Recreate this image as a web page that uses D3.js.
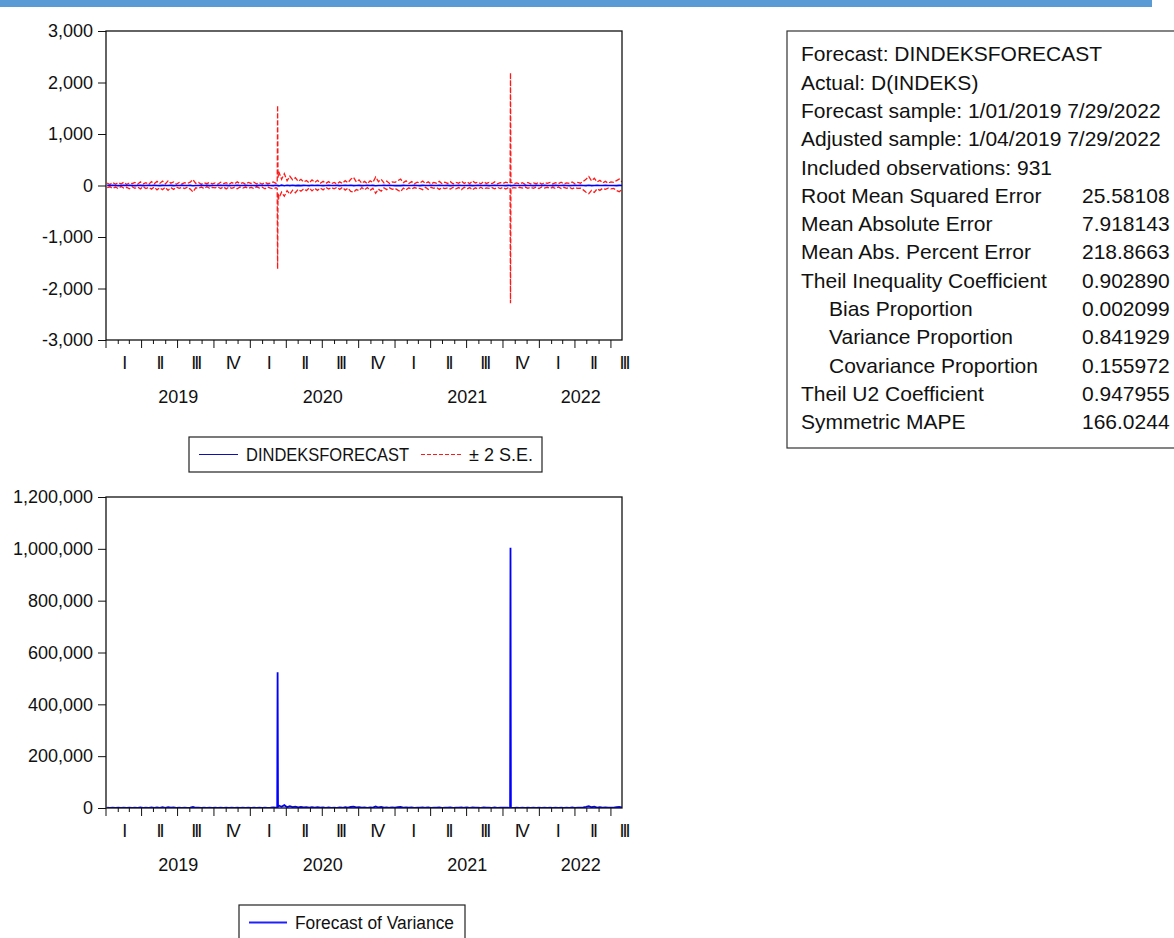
<!DOCTYPE html>
<html>
<head>
<meta charset="utf-8">
<script src="https://cdn.jsdelivr.net/npm/d3@7"></script>
<style>
  body { margin: 0; background: #fff; }
  text { font-family: "Liberation Sans", Arial, sans-serif; fill: #111; }
</style>
</head>
<body>
<svg id="chart" width="1174" height="938"></svg>
<script>
// weekly readings (Fridays, 2019-01-04 .. 2022-07-29)
const upperBand = [
  45, 20, 60, 25, 55, 30, 65, 20, 50, 35,
  60, 25, 70, 30, 55, 20, 75, 35, 80, 40,
  85, 30, 90, 45, 70, 25, 60, 30, 55, 40,
  65, 115, 40, 60, 25, 55, 35, 60, 30, 50,
  25, 65, 35, 55, 20, 60, 30, 70, 35, 55,
  25, 60, 40, 65, 30, 55, 25, 60, 35, 45,
  70, 40, 270, 120, 230, 90, 180, 110, 150, 80,
  120, 70, 95, 50, 110, 60, 100, 45, 80, 40,
  75, 35, 60, 30, 70, 40, 95, 55, 120, 160,
  70, 110, 45, 80, 35, 90, 60, 165, 75, 120,
  50, 85, 40, 70, 60, 95, 125, 55, 90, 40,
  75, 35, 65, 50, 85, 40, 70, 30, 60, 45,
  80, 35, 65, 40, 75, 30, 60, 45, 85, 40,
  70, 35, 90, 50, 65, 30, 75, 40, 60, 35,
  70, 30, 55, 40, 65, 45, 60, 35, 50, 30,
  55, 25, 60, 30, 50, 35, 65, 25, 55, 40,
  60, 30, 55, 35, 65, 30, 50, 40, 70, 35,
  60, 45, 80, 120, 175, 90, 140, 70, 100, 50,
  80, 45, 70, 60, 95, 125, 70
];
const lowerBand = [
  -40, -25, -55, -30, -60, -20, -50, -35, -65, -25,
  -55, -30, -65, -25, -60, -35, -70, -30, -85, -45,
  -80, -35, -95, -40, -75, -30, -55, -35, -60, -30,
  -70, -125, -45, -55, -30, -60, -25, -55, -35, -45,
  -30, -60, -25, -65, -30, -55, -35, -65, -30, -50,
  -30, -55, -35, -60, -25, -50, -35, -65, -30, -50,
  -65, -45, -250, -130, -210, -100, -170, -90, -140, -75,
  -110, -65, -100, -45, -105, -55, -95, -50, -85, -35,
  -70, -40, -65, -35, -75, -35, -90, -50, -115, -130,
  -80, -100, -40, -85, -40, -95, -55, -150, -70, -110,
  -45, -80, -45, -75, -55, -90, -120, -50, -85, -45,
  -70, -40, -60, -55, -80, -35, -75, -35, -55, -40,
  -75, -40, -60, -45, -70, -35, -65, -40, -80, -35,
  -65, -40, -85, -45, -70, -35, -70, -45, -55, -40,
  -65, -35, -60, -35, -70, -40, -55, -40, -55, -35,
  -50, -30, -55, -35, -55, -30, -60, -30, -50, -35,
  -55, -35, -60, -30, -60, -35, -55, -35, -65, -40,
  -55, -50, -85, -130, -160, -95, -135, -65, -95, -55,
  -75, -50, -65, -55, -100, -120, -75
];
const forecast = [
  2, -1, 3, 0, -2, 1, 4, -1, 2, 0,
  -3, 1, 2, -2, 0, 3, -1, 2, 1, -2,
  3, 0, -1, 2, -3, 1, 0, 2, -1, 1,
  2, -4, 1, 0, 3, -1, 2, -2, 1, 0,
  -1, 2, 0, 3, -2, 1, -1, 2, 0, 1,
  2, -1, 1, 0, -2, 3, 1, -1, 2, 0,
  -3, 4, -8, 6, -5, 4, -3, 5, -2, 3,
  -2, 3, 1, -2, 4, -1, 2, 0, -3, 1,
  2, -1, 0, 3, -2, 1, 2, -1, 4, -3,
  1, 2, -2, 0, 3, -1, 2, -4, 1, 0,
  2, -1, 3, 0, -2, 1, -3, 2, 0, 1,
  -1, 2, 0, -2, 3, 1, -1, 2, 0, -1,
  2, 0, -1, 3, -2, 1, 0, 2, -1, 1,
  0, 2, -3, 1, 2, -1, 0, 3, -2, 1,
  2, -1, 1, 0, -2, 3, -4, 2, 0, 1,
  -1, 2, 0, 1, -2, 3, 0, -1, 2, 0,
  1, -2, 3, 0, -1, 2, 1, -2, 0, 3,
  -1, 2, 0, -3, 4, -2, 1, 3, -1, 0,
  2, -1, 1, 0, -2, 3, 1
];
const variance = [
  900, 400, 1600, 500, 1300, 600, 1800, 400, 1200, 700,
  1500, 500, 2000, 600, 1400, 400, 2200, 800, 2500, 900,
  2800, 700, 3200, 1100, 2000, 500, 1500, 600, 1300, 800,
  1800, 4200, 900, 1400, 500, 1300, 700, 1500, 600, 1100,
  500, 1600, 700, 1400, 400, 1500, 600, 1800, 700, 1300,
  500, 1500, 800, 1700, 600, 1300, 500, 1600, 700, 1000,
  1900, 900, 9500, 4500, 11000, 3200, 7000, 3500, 5200, 2500,
  4000, 2000, 3300, 1200, 3600, 1500, 3000, 1100, 2500, 800,
  2200, 700, 1600, 600, 2000, 900, 2800, 1300, 3900, 5400,
  2000, 3500, 1000, 2400, 800, 2700, 1500, 5800, 2000, 3800,
  1100, 2500, 900, 2000, 1500, 2900, 4100, 1300, 2600, 1000,
  2000, 800, 1600, 1200, 2400, 900, 1900, 700, 1500, 1000,
  2300, 800, 1600, 1000, 2100, 700, 1500, 1000, 2500, 900,
  1900, 800, 2700, 1200, 1700, 700, 2000, 900, 1500, 800,
  1900, 600, 1400, 900, 1800, 1000, 1500, 800, 1300, 600,
  1400, 500, 1500, 600, 1300, 700, 1700, 500, 1400, 800,
  1600, 600, 1400, 700, 1700, 600, 1300, 800, 1900, 700,
  1500, 1000, 2600, 4500, 6800, 2900, 5000, 1600, 3000, 1100,
  2200, 1000, 1700, 1300, 3000, 4200, 2000
];

// daily readings around the two spikes
const spikeDates = ["2020-03-09", "2020-03-10", "2020-03-11", "2021-10-19", "2021-10-20", "2021-10-21"];
const spikeUpper = [60, 1556, 150, 50, 2190, 60];
const spikeLower = [-55, -1622, -140, -45, -2287, -55];
const spikeForecast = [1, -3, 2, 0, -4, 1];
const spikeVariance = [900, 524000, 5000, 700, 1004000, 900];

const topTicks = [-3000, -2000, -1000, 0, 1000, 2000, 3000];
const bottomTicks = [0, 200000, 400000, 600000, 800000, 1000000, 1200000];
const quarterNames = ["I", "II", "III", "IV"];

const stats = [
  ["Forecast: DINDEKSFORECAST", ""],
  ["Actual: D(INDEKS)", ""],
  ["Forecast sample: 1/01/2019 7/29/2022", ""],
  ["Adjusted sample: 1/04/2019 7/29/2022", ""],
  ["Included observations: 931", ""],
  ["Root Mean Squared Error", "25.58108"],
  ["Mean Absolute Error", "7.918143"],
  ["Mean Abs. Percent Error", "218.8663"],
  ["Theil Inequality Coefficient", "0.902890"],
  ["   Bias Proportion", "0.002099"],
  ["   Variance Proportion", "0.841929"],
  ["   Covariance Proportion", "0.155972"],
  ["Theil U2 Coefficient", "0.947955"],
  ["Symmetric MAPE", "166.0244"]
];

const parse = d3.timeParse("%Y-%m-%d");
const weeks = d3.timeFriday.range(new Date(2019, 0, 4), new Date(2022, 6, 30));
const fmt = d3.formatLocale({ decimal: ".", thousands: ",", grouping: [3], currency: ["", ""], minus: "-" }).format(",");

function series(weekVals, spikeVals) {
  const pts = weeks.slice(0, weekVals.length).map((d, i) => ({ date: d, v: weekVals[i] }));
  spikeDates.forEach((d, i) => pts.push({ date: parse(d), v: spikeVals[i] }));
  return pts.sort((a, b) => a.date - b.date);
}

const svg = d3.select("#chart");

svg.append("rect").attr("x", 0).attr("y", 0).attr("width", 1152).attr("height", 7).attr("fill", "#5b9bd5");

const x = d3.scaleTime()
  .domain([new Date(2019, 0, 1), new Date(2022, 6, 29)])
  .range([106, 622]);

function drawPanel(top, bottom, yDomain, ticks, id) {
  const y = d3.scaleLinear().domain(yDomain).range([bottom, top]);
  const g = svg.append("g");

  g.append("clipPath").attr("id", id)
    .append("rect").attr("x", 106).attr("y", top).attr("width", 516).attr("height", bottom - top);

  g.append("g")
    .attr("transform", "translate(106,0)")
    .call(d3.axisLeft(y).tickValues(ticks).tickSize(8).tickPadding(5).tickFormat(fmt))
    .call(a => a.select(".domain").remove())
    .call(a => a.selectAll("text").attr("font-size", 18))
    .call(a => a.selectAll("line").attr("stroke", "#111"));

  // month ticks, quarter ticks longer
  const months = d3.timeMonth.range(new Date(2019, 0, 1), new Date(2022, 6, 30));
  g.selectAll(".mt").data(months).enter().append("line")
    .attr("x1", d => x(d)).attr("x2", d => x(d))
    .attr("y1", bottom).attr("y2", d => bottom + (d.getMonth() % 3 === 0 ? 8 : 4))
    .attr("stroke", "#111").attr("stroke-width", 1);

  const quarters = d3.timeMonth.every(3).range(new Date(2019, 0, 1), new Date(2022, 6, 30));
  g.selectAll(".ql").data(quarters).enter().append("text")
    .attr("x", d => Math.min((x(d) + x(d3.timeMonth.offset(d, 3))) / 2, x.range()[1] + 2))
    .attr("y", bottom + 23).attr("dy", "0.35em")
    .attr("text-anchor", "middle").attr("font-size", 18).attr("letter-spacing", -2)
    .text(d => quarterNames[d.getMonth() / 3]);

  const years = [2019, 2020, 2021, 2022];
  g.selectAll(".yl").data(years).enter().append("text")
    .attr("x", yr => {
      const s = Math.max(x(new Date(yr, 0, 1)), x.range()[0]);
      const e = Math.min(x(new Date(yr + 1, 0, 1)), x.range()[1]);
      return (s + e) / 2;
    })
    .attr("y", bottom + 57).attr("dy", "0.35em")
    .attr("text-anchor", "middle").attr("font-size", 18)
    .text(yr => yr);

  return { g, y };
}

// top panel: forecast with +/- 2 S.E.
const p1 = drawPanel(31, 340, [-3000, 3000], topTicks, "clipTop");
const line1 = d3.line().x(d => x(d.date)).y(d => p1.y(d.v));
const plot1 = p1.g.append("g").attr("clip-path", "url(#clipTop)");
[series(upperBand, spikeUpper), series(lowerBand, spikeLower)].forEach(s => {
  plot1.append("path").datum(s).attr("d", line1)
    .attr("fill", "none").attr("stroke", "#ff1a1a").attr("stroke-width", 1.3)
    .attr("stroke-dasharray", "5,2");
});
plot1.append("path").datum(series(forecast, spikeForecast)).attr("d", line1)
  .attr("fill", "none").attr("stroke", "#0000ff").attr("stroke-width", 1.6);
p1.g.append("rect").attr("x", 106).attr("y", 31).attr("width", 516).attr("height", 309)
  .attr("fill", "none").attr("stroke", "#111").attr("stroke-width", 1.3);

// top legend
const lg1 = svg.append("g");
lg1.append("rect").attr("x", 189).attr("y", 437).attr("width", 353).attr("height", 35)
  .attr("fill", "#fff").attr("stroke", "#222").attr("stroke-width", 1.2);
lg1.append("line").attr("x1", 199).attr("x2", 238).attr("y1", 454.5).attr("y2", 454.5)
  .attr("stroke", "#1010b0").attr("stroke-width", 1.2);
lg1.append("text").attr("x", 246).attr("y", 454.5).attr("dy", "0.35em").attr("font-size", 18)
  .attr("textLength", 163).attr("lengthAdjust", "spacingAndGlyphs").text("DINDEKSFORECAST");
lg1.append("line").attr("x1", 421).attr("x2", 462).attr("y1", 454.5).attr("y2", 454.5)
  .attr("stroke", "#ff1a1a").attr("stroke-width", 1.2).attr("stroke-dasharray", "4,2");
lg1.append("text").attr("x", 469).attr("y", 454.5).attr("dy", "0.35em").attr("font-size", 18)
  .text("± 2 S.E.");

// bottom panel: forecast of variance
const p2 = drawPanel(497, 808, [0, 1200000], bottomTicks, "clipBottom");
const line2 = d3.line().x(d => x(d.date)).y(d => p2.y(d.v));
p2.g.append("g").attr("clip-path", "url(#clipBottom)")
  .append("path").datum(series(variance, spikeVariance)).attr("d", line2)
  .attr("fill", "none").attr("stroke", "#0000ff").attr("stroke-width", 1.8);
p2.g.append("rect").attr("x", 106).attr("y", 497).attr("width", 516).attr("height", 311)
  .attr("fill", "none").attr("stroke", "#111").attr("stroke-width", 1.3);

const lg2 = svg.append("g");
lg2.append("rect").attr("x", 239).attr("y", 905).attr("width", 226).attr("height", 45)
  .attr("fill", "#fff").attr("stroke", "#222").attr("stroke-width", 1.2);
lg2.append("line").attr("x1", 249).attr("x2", 287).attr("y1", 922.5).attr("y2", 922.5)
  .attr("stroke", "#2020ff").attr("stroke-width", 1.8);
lg2.append("text").attr("x", 295).attr("y", 922.5).attr("dy", "0.35em").attr("font-size", 18)
  .attr("textLength", 159).attr("lengthAdjust", "spacingAndGlyphs").text("Forecast of Variance");

// statistics box
const sb = svg.append("g");
sb.append("rect").attr("x", 787).attr("y", 31).attr("width", 420).attr("height", 417)
  .attr("fill", "#fff").attr("stroke", "#333").attr("stroke-width", 1.2);
stats.forEach((r, i) => {
  const yy = 54 + i * 28.3;
  const indent = r[0].startsWith("   ");
  sb.append("text").attr("x", indent ? 829 : 801).attr("y", yy).attr("dy", "0.35em")
    .attr("font-size", 21).text(r[0].trim());
  if (r[1]) sb.append("text").attr("x", 1082).attr("y", yy).attr("dy", "0.35em")
    .attr("font-size", 21).text(r[1]);
});
</script>
</body>
</html>
